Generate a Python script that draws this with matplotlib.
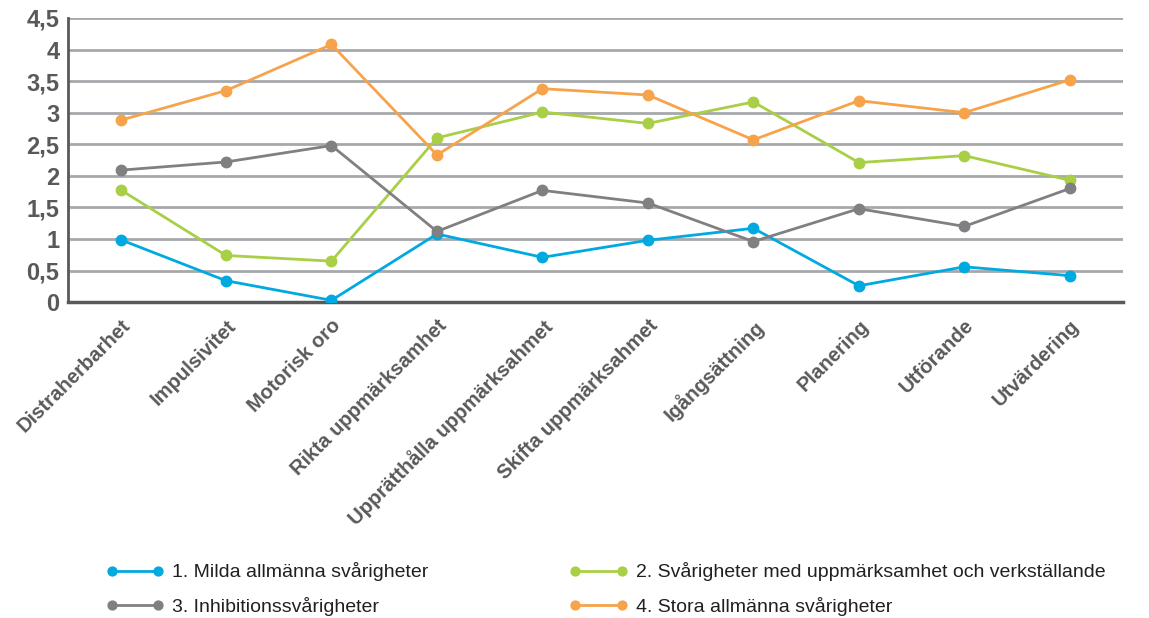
import matplotlib.pyplot as plt
from matplotlib.ticker import FuncFormatter

plt.rcParams['font.family'] = ['Liberation Sans', 'DejaVu Sans']

categories = ['Distraherbarhet', 'Impulsivitet', 'Motorisk oro', 'Rikta uppmärksamhet',
              'Upprätthålla uppmärksahmet', 'Skifta uppmärksahmet', 'Igångsättning',
              'Planering', 'Utförande', 'Utvärdering']

mild = [0.99, 0.34, 0.03, 1.08, 0.71, 0.98, 1.17, 0.26, 0.56, 0.42]
attention = [1.78, 0.74, 0.65, 2.60, 3.01, 2.83, 3.17, 2.21, 2.32, 1.93]
inhibition = [2.09, 2.22, 2.48, 1.12, 1.77, 1.57, 0.96, 1.48, 1.20, 1.80]
major = [2.88, 3.35, 4.08, 2.33, 3.38, 3.28, 2.57, 3.19, 3.00, 3.52]

series = [
    ('1. Milda allmänna svårigheter', mild, '#00a9e0'),
    ('2. Svårigheter med uppmärksamhet och verkställande', attention, '#a8cf45'),
    ('3. Inhibitionssvårigheter', inhibition, '#808083'),
    ('4. Stora allmänna svårigheter', major, '#f7a34b'),
]

fig = plt.figure(figsize=(11.49, 6.18), dpi=100)
ax = fig.add_axes([0.059, 0.511, 0.918, 0.460])

x = list(range(len(categories)))
lines = []
for label, vals, col in series:
    ln, = ax.plot(x, vals, color=col, lw=2, marker='o', ms=7.5, label=label, zorder=3)
    lines.append(ln)

ax.set_xlim(-0.5, len(categories) - 0.5)
ax.set_ylim(0, 4.5)
ax.set_yticks([0, 0.5, 1, 1.5, 2, 2.5, 3, 3.5, 4, 4.5])
ax.yaxis.set_major_formatter(FuncFormatter(lambda v, p: ('%g' % v).replace('.', ',')))
ax.grid(axis='y', color='#a7a8ab', lw=2, zorder=0)
ax.set_axisbelow(True)

for s in ['top', 'right']:
    ax.spines[s].set_visible(False)
ax.spines['left'].set_color('#58595b')
ax.spines['left'].set_linewidth(2)
ax.spines['bottom'].set_color('#58595b')
ax.spines['bottom'].set_linewidth(2.5)

ax.set_xticks(x)
ax.set_xticklabels(categories, rotation=45, ha='right', rotation_mode='anchor',
                   fontsize=14.6, fontweight='bold', color='#58595b')
ax.tick_params(axis='x', length=0, pad=10)
ax.tick_params(axis='y', length=0, pad=6, labelsize=17, labelcolor='#58595b')
for t in ax.get_yticklabels():
    t.set_fontweight('bold')

handles = [lines[0], lines[2], lines[1], lines[3]]
labels = [h.get_label() for h in handles]
fig.legend(handles, labels, ncol=2, loc='lower left', bbox_to_anchor=(0.077, -0.025),
           frameon=False, numpoints=2, markerscale=0.85, fontsize=14, handlelength=3,
           columnspacing=7.25, labelspacing=0.8, handletextpad=0.4, labelcolor='#231f20')

fig.savefig('out.png', dpi=100)
